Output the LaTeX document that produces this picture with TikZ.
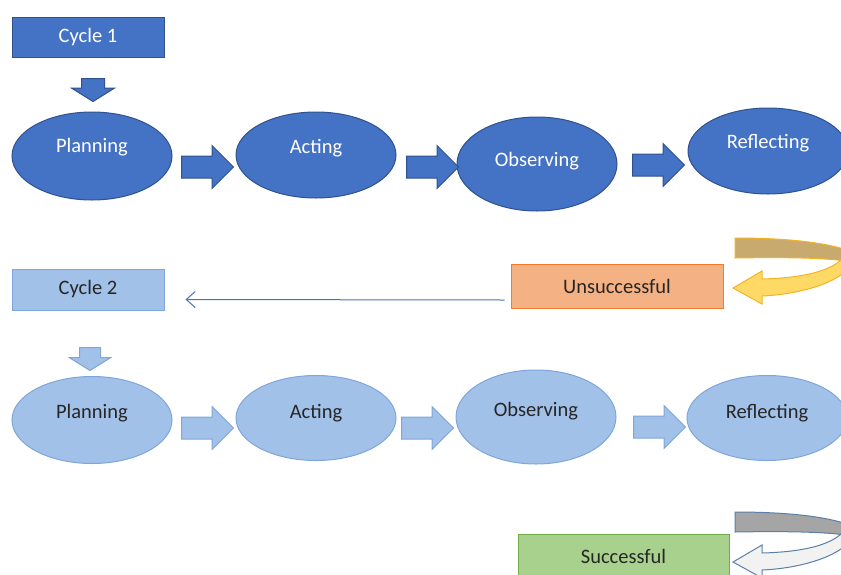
\documentclass[tikz,border=0pt]{standalone}
\usepackage{fontspec}
\setmainfont{Carlito}
\usetikzlibrary{shapes.geometric,shapes.arrows,arrows.meta}

\definecolor{darkblue}{HTML}{4472C4}
\definecolor{darkline}{HTML}{2F528F}
\definecolor{lightblue}{HTML}{A2C1E8}
\definecolor{lightline}{HTML}{7EA6DA}
\definecolor{salmon}{HTML}{F4B183}
\definecolor{orangeline}{HTML}{ED7D31}
\definecolor{greenfill}{HTML}{A9D18E}
\definecolor{greenline}{HTML}{70AD47}
\definecolor{goldfront}{HTML}{FFD966}
\definecolor{goldback}{HTML}{C9AA6E}
\definecolor{goldline}{HTML}{F5B324}
\definecolor{greyback}{HTML}{A5A5A5}
\definecolor{greyfront}{HTML}{F2F2F2}
\definecolor{greyline}{HTML}{5B7FA6}

% curved return arrow: y shift, back fill, front fill, outline
\newcommand{\loopback}[4]{%
	\begin{scope}[shift={(0,#1)}]
	\path[draw=#4,fill=#2,line width=1pt] (735,238) .. controls (790,238) and (830,243) .. (852,252)
		-- (852,262) .. controls (830,258) and (790,257) .. (735,258) -- cycle;
	\path[draw=#4,fill=#3,line width=1pt] (852,256) .. controls (856,276) and (810,294) .. (762,296)
		-- (762,304) -- (733,288) -- (762,271) -- (762,279)
		.. controls (800,278) and (830,272) .. (843,258) -- cycle;
	\end{scope}}

\begin{document}
\begin{tikzpicture}[
	x=1pt,y=-1pt,
	font=\fontsize{20.5pt}{24pt}\selectfont,
	phase/.style={ellipse,minimum width=160pt,minimum height=88pt,inner sep=0pt,
		line width=1pt,text height=15pt,text depth=#1},
	dark/.style={fill=darkblue,draw=darkline,text=white},
	light/.style={fill=lightblue,draw=lightline,text=black!85},
	box/.style={rectangle,minimum width=152pt,minimum height=40pt,inner sep=0pt,line width=1pt},
	rightarrow/.style={single arrow,anchor=tail,single arrow head extend=10.5pt,minimum height=52pt,
		inner xsep=0pt,inner ysep=10.5pt,line width=1pt},
	downarrow/.style={single arrow,rotate=270,anchor=tail,single arrow head extend=10pt,
		single arrow tip angle=116,minimum height=23pt,inner xsep=0pt,inner ysep=11pt,line width=1pt},
	thinarrow/.style={draw=darkblue,line width=1pt,-{Straight Barb[length=9pt,width=16pt]}}
	]
	\useasboundingbox (0,0) rectangle (841,574);
	\clip (0,0) rectangle (841,574);

	% cycle 1
	\node[box,dark] (cyc1) at (88,37) {Cycle 1};
	\node[downarrow,dark] (d1) at (93,78) {};
	\node[phase=23pt,dark] (p1) at (92,156) {Planning};
	\node[phase=19pt,dark,minimum height=86pt] (a1) at (316,155) {Acting};
	\node[phase=11pt,dark,minimum height=94pt] (o1) at (537,164) {Observing};
	\node[phase=21pt,dark,minimum height=86pt] (r1) at (768,151) {Reflecting};
	\node[rightarrow,dark] (pa1) at (181,167) {};
	\node[rightarrow,dark] (ao1) at (406,167) {};
	\node[rightarrow,dark] (or1) at (632,165) {};

	% decision after cycle 1
	\node[box,fill=salmon,draw=orangeline,minimum width=212pt,minimum height=44pt,text=black!85] (unsucc) at (617,286) {Unsuccessful};
	\loopback{0}{goldback}{goldfront}{goldline}

	% cycle 2
	\node[box,light,minimum height=41pt] (cyc2) at (88,289.5) {Cycle 2};
	\draw[thinarrow] ([xshift=-6pt,yshift=-14pt]unsucc.west) -- ([xshift=21pt,yshift=-10pt]cyc2.east);
	\node[downarrow,light,inner ysep=10pt] (d2) at (90,347) {};
	\node[phase=19pt,light,minimum height=87pt] (p2) at (92,420) {Planning};
	\node[phase=15pt,light,minimum height=85pt] (a2) at (316,418) {Acting};
	\node[phase=17pt,light,minimum height=94pt] (o2) at (536,417) {Observing};
	\node[phase=15pt,light,minimum height=85pt] (r2) at (767,418) {Reflecting};
	\node[rightarrow,light] (pa2) at (181,428) {};
	\node[rightarrow,light] (ao2) at (401,428) {};
	\node[rightarrow,light] (or2) at (633,427) {};

	% decision after cycle 2
	\node[box,fill=greenfill,draw=greenline,minimum width=211pt,minimum height=44pt,text=black!85] (succ) at (623.5,556) {Successful};
	\loopback{274}{greyback}{greyfront}{greyline}
\end{tikzpicture}
\end{document}
